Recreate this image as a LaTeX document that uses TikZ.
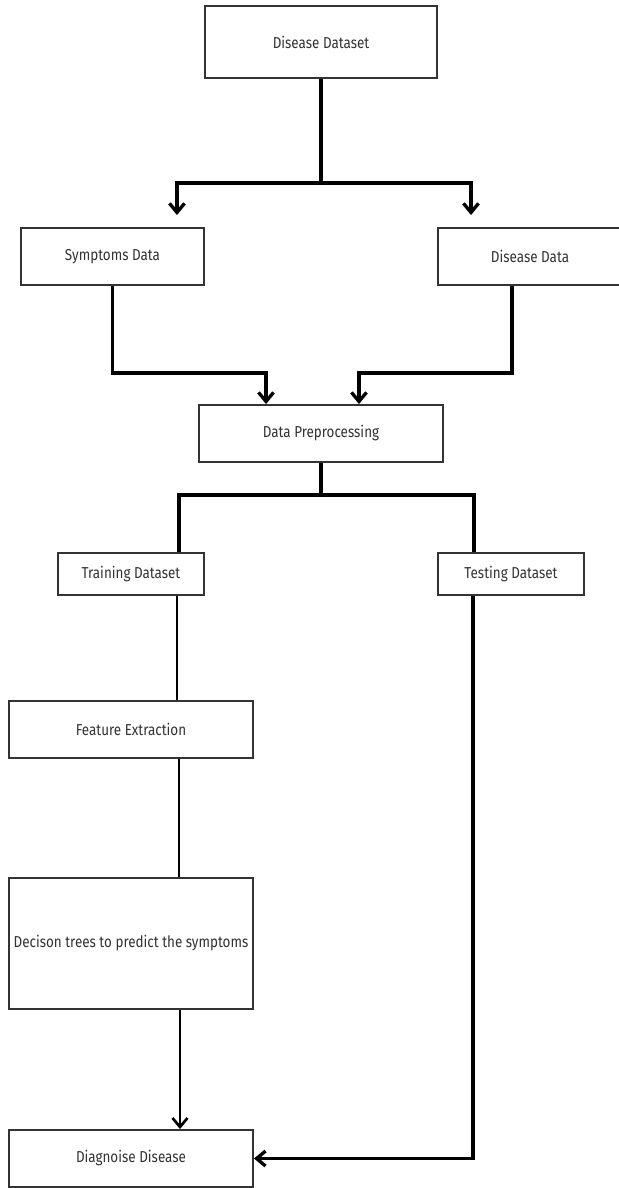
\documentclass[tikz,border=0pt]{standalone}
\usepackage{fontspec}
\setmainfont{Fira Sans}[FakeStretch=0.85]
\usetikzlibrary{arrows.meta,calc}
\tikzset{
	box/.style={draw=black!80, line width=1.1pt, fill=white, text=black!80, inner sep=0pt, font=\fontsize{9}{11}\selectfont},
	link/.style={line width=1.9pt},
	thinlink/.style={line width=1.5pt},
	arrow/.style={-{Straight Barb[length=1.8mm,width=3mm]}}
}

\begin{document}
\begin{tikzpicture}[x=0.02cm, y=-0.02cm]
			%%%%% START %%%%%
			
			\useasboundingbox (0, 0) rectangle (619, 1188);
			
			\node[box, minimum width=4.64cm, minimum height=1.44cm] (dataset) at (321, 42) {Disease Dataset};
			
			\node[box, minimum width=3.66cm, minimum height=1.14cm] (symptoms) at (112.5, 256.5) {Symptoms Data};
			\node[box, minimum width=3.68cm, minimum height=1.14cm] (diseasedata) at (530, 256.5) {Disease Data};
			
			\node[box, minimum width=4.88cm, minimum height=1.14cm] (preproc) at (321, 433.5) {Data Preprocessing};
			
			\node[box, minimum width=2.92cm, minimum height=0.84cm] (training) at (131, 574) {Training Dataset};
			\node[box, minimum width=2.92cm, minimum height=0.84cm] (testing) at (511, 574) {Testing Dataset};
			
			\node[box, minimum width=4.88cm, minimum height=1.14cm] (feature) at (131, 729.5) {Feature Extraction};
			\node[box, minimum width=4.88cm, minimum height=2.62cm] (decision) at (131, 943.5) {Decison trees to predict the symptoms};
			\node[box, minimum width=4.88cm, minimum height=1.14cm] (diagnose) at (131, 1158.5) {Diagnoise Disease};
			
			% split of the dataset
			\coordinate (split) at (321, 183);
			\coordinate (symin) at (177, 215);
			\coordinate (disin) at (471, 215);
			\draw[link] (dataset.south) -- (split);
			\draw[link, arrow] (split) -| (symin);
			\draw[link, arrow] (split) -| (disin);
			
			\draw[link, arrow] (symptoms.south) -- ++(0, 87) -| ([xshift=-1.1cm]preproc.north);
			\draw[link, arrow] ([xshift=-0.36cm]diseasedata.south) -- ++(0, 87) -| ([xshift=0.76cm]preproc.north);
			
			% train / test
			\coordinate (split2) at (321, 495);
			\draw[link] (preproc.south) -- (split2);
			\draw[link] (split2) -| ([xshift=0.96cm]training.north);
			\draw[link] (split2) -| ([xshift=-0.74cm]testing.north);
			
			\draw[thinlink] ([xshift=0.92cm]training.south) -- ([xshift=0.92cm]feature.north);
			\draw[thinlink] ([xshift=0.96cm]feature.south) -- ([xshift=0.96cm]decision.north);
			\draw[thinlink, arrow] ([xshift=0.98cm]decision.south) -- ([xshift=0.98cm]diagnose.north);
			\draw[link, arrow] ([xshift=-0.76cm]testing.south) |- (diagnose.east);
			
			%%%%% END %%%%%
\end{tikzpicture}
\end{document}
